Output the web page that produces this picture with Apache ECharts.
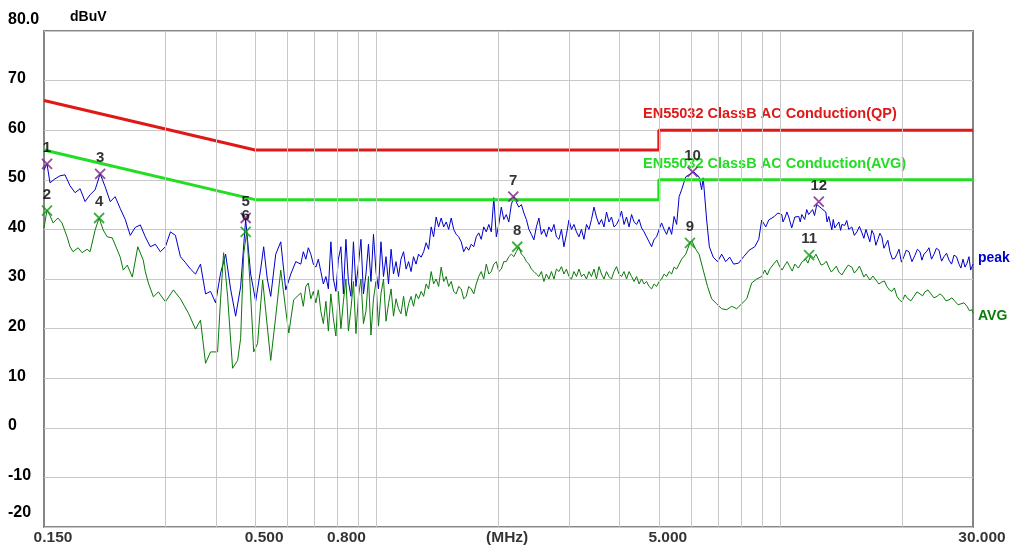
<!DOCTYPE html>
<html><head><meta charset="utf-8">
<script src="https://cdn.jsdelivr.net/npm/echarts@6/dist/echarts.min.js"></script>
<style>html,body{margin:0;padding:0;background:#fff}#c{width:1014px;height:545px}</style>
</head><body><div id="c"></div><script>
// ---- data ----
const X_GRID = [0.3,0.4,0.5,0.6,0.7,0.8,0.9,1,2,3,4,5,6,7,8,9,10,20];
const X_TICK_VALUES = [0.15,0.5,0.8,2,5,30];
const X_TICK_TEXT = ['0.150','0.500','0.800','(MHz)','5.000','30.000'];
const Y_TICK_TEXT = {'-20':'-20','-10':'-10','0':'0','10':'10','20':'20','30':'30','40':'40','50':'50','60':'60','70':'70','80':'80.0'};

const QP_LIMIT_NAME = 'EN55032 ClassB AC Conduction(QP)';
const QP_LIMIT = [[0.15,66],[0.5,56],[5,56],[5,60],[30,60]];
const AVG_LIMIT_NAME = 'EN55032 ClassB AC Conduction(AVG)';
const AVG_LIMIT = [[0.15,56],[0.5,46],[5,46],[5,50],[30,50]];

// peak trace [MHz, dBuV]
const PEAK_TRACE = [
[0.150,52.0],[0.1526,53.2],[0.1552,49.4],[0.1597,50.2],[0.1643,50.8],[0.1691,51.0],[0.1740,48.8],[0.1791,47.4],[0.1843,48.2],[0.1896,45.6],[0.1951,47.0],[0.2008,48.0],[0.2066,51.2],[0.2126,48.6],[0.2188,45.6],[0.2251,46.6],[0.2317,44.2],[0.2384,42.0],[0.2453,38.8],[0.2524,40.4],[0.2598,40.9],[0.2673,38.5],[0.2751,36.5],[0.2831,37.0],[0.2913,35.5],[0.2998,36.5],[0.3085,39.5],[0.3174,38.8],[0.3266,34.5],[0.3361,33.3],[0.3459,32.0],[0.3559,31.0],[0.3662,33.0],[0.3769,27.0],[0.3878,27.5],[0.3991,25.2],[0.4107,31.2],[0.4226,35.0],[0.4348,28.0],[0.4474,22.5],[0.4604,28.4],[0.4738,42.0],[0.4875,31.0],[0.5017,25.5],[0.5162,32.0],[0.525,36.5],[0.536,30.0],[0.5466,26.5],[0.5625,35.0],[0.5788,37.5],[0.5956,27.8],[0.6129,31.0],[0.6306,33.5],
[0.6489,33.0],[0.6582,35.5],[0.6678,34.0],[0.6773,36.3],[0.6871,35.0],[0.6970,33.0],[0.7070,32.4],[0.7171,34.0],[0.7275,31.5],[0.7379,29.0],[0.7487,30.5],[0.7594,28.0],[0.7703,37.5],[0.7814,30.0],[0.7927,27.5],[0.8040,34.0],[0.8157,36.5],[0.8274,27.0],[0.8393,38.0],[0.8514,29.5],[0.8637,26.5],[0.8761,37.5],[0.8887,28.5],[0.9015,33.0],[0.9145,38.0],[0.9276,27.0],[0.9409,31.0],[0.9545,37.0],[0.9682,29.5],[0.9821,39.0],[0.9963,31.5],[1.0106,28.0],[1.025,37.5],[1.040,30.5],[1.055,34.5],[1.070,29.0],[1.086,36.0],[1.101,31.0],[1.117,33.5],[1.133,30.5],[1.149,34.0],[1.166,35.5],[1.183,32.0],[1.200,33.5],[1.217,31.5],[1.234,34.5],[1.252,33.0],[1.270,35.0],[1.289,34.4],
[1.3075,35.5],[1.326,37.3],[1.345,36.0],[1.365,40.5],[1.384,38.5],[1.404,42.5],[1.424,40.5],[1.445,42.3],[1.466,40.5],[1.487,41.5],[1.508,40.0],[1.530,42.3],[1.552,40.0],[1.574,39.0],[1.597,38.5],[1.620,37.5],[1.643,35.5],[1.667,36.5],[1.691,35.8],[1.715,37.0],[1.740,36.5],[1.765,38.5],[1.790,39.3],[1.816,38.0],[1.842,40.5],[1.869,39.5],[1.896,41.0],[1.923,39.5],[1.951,46.4],[1.979,38.5],[2.007,41.0],[2.036,44.5],[2.065,42.0],[2.095,43.0],[2.125,41.5],[2.156,45.0],[2.187,46.6],[2.218,45.5],[2.250,44.5],[2.283,45.0],[2.316,43.3],[2.349,42.0],[2.383,40.0],[2.417,39.0],[2.452,37.9],[2.487,40.5],[2.523,42.3],[2.559,39.0],[2.596,40.0],[2.633,38.5],[2.671,40.5],[2.710,39.5],[2.749,41.0],[2.788,38.5],[2.828,38.0],[2.869,40.0],[2.910,36.5],[2.952,39.0],[2.995,41.9],[3.038,40.0],[3.081,41.0],[3.126,39.5],[3.171,38.5],[3.216,40.0],[3.262,38.0],[3.309,41.0],[3.357,40.0],[3.405,42.0],[3.454,44.5],[3.504,42.5],[3.554,41.0],[3.606,42.0],[3.657,40.5],[3.710,43.5],[3.763,41.5],[3.817,42.5],[3.872,40.5],[3.928,41.0],[3.984,42.0],[4.042,43.7],[4.100,41.0],[4.159,42.5],[4.219,40.5],[4.280,43.0],[4.341,41.5],[4.404,41.0],[4.467,42.0],[4.531,40.3],[4.596,39.5],[4.662,38.5],[4.729,37.5],[4.798,36.5],[4.866,38.0],[4.937,38.5],[5.008,40.0],[5.080,41.3],[5.153,40.0],[5.227,39.0],[5.302,40.5],[5.378,39.0],[5.455,42.6],[5.534,41.0],[5.613,46.6],[5.694,48.0],
[5.83,50.6],[5.99,51.2],[6.10,51.6],[6.29,50.6],[6.383,48.0],[6.44,50.4],[6.568,41.9],[6.67,36.5],[6.82,34.4],[6.99,33.5],[7.155,35.0],[7.32,33.5],[7.49,34.4],[7.66,33.0],[7.88,33.2],[8.11,34.5],[8.37,35.8],[8.64,36.5],[8.84,38.0],[8.99,41.9],[9.20,40.5],[9.36,41.9],[9.66,42.6],[9.85,43.3],[10.08,43.0],[10.15,41.5],[10.26,42.3],[10.38,43.5],[10.49,42.5],[10.67,40.3],[10.86,42.5],[11.11,42.6],[11.2,41.5],[11.30,43.0],[11.49,42.0],[11.62,44.0],[11.75,43.0],[12.02,44.0],[12.15,42.8],[12.31,45.0],[12.45,45.4],[12.66,44.2],[12.96,43.5],[13.05,41.5],[13.18,42.6],[13.41,39.9],[13.52,42.0],[13.64,40.3],[13.96,41.5],[14.1,39.8],[14.20,41.0],[14.44,40.8],[14.6,41.8],[14.77,40.0],[15.03,40.5],[15.25,38.8],[15.47,39.5],[15.7,40.6],[15.92,39.3],[16.1,38.2],[16.29,40.0],[16.66,37.5],[16.85,39.8],[17.04,39.0],[17.24,36.8],[17.44,38.0],[17.64,39.2],[17.84,38.5],[18.05,36.2],[18.25,37.0],[18.46,37.8],[18.68,35.5],[18.95,34.0],[19.22,34.2],[19.44,35.0],[19.67,36.0],[19.95,33.4],[20.23,34.5],[20.5,35.8],[20.82,35.5],[21.18,33.5],[21.55,34.8],[21.85,36.0],[22.17,35.5],[22.42,33.8],[22.68,35.0],[23.0,35.5],[23.34,36.3],[23.68,34.0],[24.02,35.0],[24.35,36.2],[24.71,35.8],[25.08,33.6],[25.43,34.5],[25.8,35.2],[26.16,33.8],[26.55,33.0],[26.92,34.8],[27.3,34.5],[27.70,33.0],[28.0,32.2],[28.34,34.0],[28.66,32.4],[29.0,33.2],[29.32,34.5],[29.6,31.8],[29.83,32.5],[30.0,33.0]
];

// average trace [MHz, dBuV]
const AVG_TRACE = [
[0.150,40.3],[0.1526,43.9],[0.1552,42.8],[0.1580,41.3],[0.1624,42.3],[0.1662,41.3],[0.1711,38.5],[0.1740,36.5],[0.1770,35.5],[0.1822,36.3],[0.1864,35.3],[0.1918,36.0],[0.1951,35.5],[0.2008,39.9],[0.2054,42.3],[0.2102,39.9],[0.2151,38.5],[0.2213,38.3],[0.2251,36.9],[0.2317,34.4],[0.2357,31.8],[0.2412,32.8],[0.2482,30.4],[0.2561,36.5],[0.2642,33.8],[0.2673,31.5],[0.2720,29.2],[0.2799,26.4],[0.2880,27.4],[0.2998,25.4],[0.3138,27.8],[0.3266,26.0],[0.3419,23.1],[0.3559,19.9],[0.3662,21.7],[0.3769,13.0],[0.3878,15.3],[0.4037,15.3],[0.4107,26.0],[0.4178,35.3],[0.4275,26.4],[0.4398,12.0],[0.4526,13.6],[0.4604,18.0],[0.4684,35.0],[0.4765,39.5],[0.485,30.0],[0.496,15.3],[0.507,17.0],[0.522,29.8],[0.531,23.7],[0.5466,13.6],[0.5625,22.5],[0.5788,31.8],[0.5956,23.7],[0.606,19.1],[0.623,25.8],
[0.6489,27.2],[0.6582,24.5],[0.6678,28.5],[0.6773,29.2],[0.6871,26.0],[0.6970,27.5],[0.7070,25.2],[0.7171,27.8],[0.7275,23.5],[0.7379,21.0],[0.7487,25.5],[0.7594,19.5],[0.7703,27.0],[0.7814,22.0],[0.7927,18.5],[0.8040,27.5],[0.8157,20.0],[0.8274,25.5],[0.8393,30.0],[0.8514,19.5],[0.8637,24.0],[0.8761,29.5],[0.8887,19.0],[0.9015,26.5],[0.9145,30.0],[0.9276,21.0],[0.9409,23.5],[0.9545,30.5],[0.9682,18.7],[0.9821,26.0],[0.9963,29.5],[1.0106,20.5],[1.025,27.0],[1.040,30.0],[1.055,21.5],[1.070,25.0],[1.086,28.0],[1.101,22.5],[1.117,26.0],[1.133,24.0],[1.149,23.0],[1.166,26.5],[1.183,22.5],[1.200,25.0],[1.217,26.5],[1.234,24.5],[1.252,27.0],[1.270,26.0],[1.289,27.5],
[1.3075,26.5],[1.326,29.0],[1.345,28.0],[1.365,31.5],[1.384,29.0],[1.404,30.0],[1.424,28.5],[1.445,32.4],[1.466,29.5],[1.487,30.5],[1.508,28.5],[1.530,29.5],[1.552,27.5],[1.574,27.0],[1.597,28.5],[1.620,28.0],[1.643,26.0],[1.667,26.5],[1.691,28.5],[1.715,28.0],[1.740,27.0],[1.765,29.0],[1.790,30.5],[1.816,31.5],[1.842,30.0],[1.869,33.0],[1.896,31.0],[1.923,31.5],[1.951,33.0],[1.979,33.5],[2.007,31.5],[2.036,32.0],[2.065,33.5],[2.095,33.5],[2.125,34.5],[2.156,35.0],[2.187,34.5],[2.218,35.5],[2.250,36.5],[2.283,35.0],[2.316,34.5],[2.349,33.5],[2.383,33.0],[2.417,32.0],[2.452,31.5],[2.487,31.0],[2.523,30.5],[2.559,31.5],[2.596,29.5],[2.633,31.0],[2.671,30.0],[2.710,31.5],[2.749,30.0],[2.788,32.0],[2.828,31.5],[2.869,32.5],[2.910,31.0],[2.952,32.0],[2.995,30.5],[3.038,30.0],[3.081,31.5],[3.126,30.5],[3.171,32.0],[3.216,30.5],[3.262,31.0],[3.309,30.0],[3.357,31.5],[3.405,30.5],[3.454,32.0],[3.504,30.0],[3.554,32.5],[3.606,31.0],[3.657,30.0],[3.710,31.5],[3.763,30.5],[3.817,30.0],[3.872,31.5],[3.928,32.5],[3.984,31.0],[4.042,30.5],[4.100,31.5],[4.159,30.0],[4.219,31.5],[4.280,30.5],[4.341,29.5],[4.404,30.5],[4.467,29.0],[4.531,30.0],[4.596,29.0],[4.662,29.5],[4.729,28.5],[4.798,28.0],[4.866,29.0],[4.937,28.5],[5.008,29.5],[5.080,30.0],[5.153,31.0],[5.227,30.5],[5.302,31.5],[5.378,31.0],[5.455,32.4],[5.534,32.0],[5.613,33.0],[5.694,34.0],
[5.83,35.0],[5.97,37.3],[6.03,37.8],[6.17,36.0],[6.29,35.0],[6.44,31.8],[6.6,28.5],[6.758,26.0],[6.954,25.0],[7.155,24.0],[7.362,23.8],[7.575,24.5],[7.795,24.0],[8.020,25.0],[8.253,26.0],[8.491,29.2],[8.737,30.0],[8.990,30.5],[9.15,31.8],[9.28,30.8],[9.41,32.0],[9.66,33.2],[9.8,33.8],[9.96,32.5],[10.1,31.8],[10.26,32.8],[10.4,33.5],[10.55,32.5],[10.7,31.6],[10.86,33.0],[11.08,32.2],[11.30,33.4],[11.55,34.0],[11.7,33.2],[11.89,34.8],[12.09,34.2],[12.25,35.0],[12.45,33.8],[12.62,32.8],[12.80,33.0],[13.0,33.6],[13.18,32.4],[13.37,31.4],[13.57,32.0],[13.76,32.6],[13.96,31.4],[14.2,30.8],[14.44,31.8],[14.72,32.8],[15.03,32.4],[15.25,31.2],[15.47,31.8],[15.7,32.6],[15.92,31.4],[16.1,30.4],[16.29,31.0],[16.66,29.8],[16.95,30.6],[17.24,29.8],[17.54,29.0],[17.84,29.4],[18.1,29.6],[18.36,28.5],[18.62,27.8],[18.89,27.5],[19.16,28.2],[19.44,26.5],[19.72,25.8],[20.00,25.4],[20.35,26.8],[20.70,26.0],[21.06,25.6],[21.42,26.5],[21.8,27.4],[22.17,27.0],[22.5,26.6],[22.81,27.4],[23.2,27.8],[23.60,27.0],[24.0,26.2],[24.43,26.5],[24.85,27.0],[25.28,26.5],[25.7,25.6],[26.16,25.8],[26.6,26.2],[27.07,25.5],[27.55,24.8],[28.01,25.0],[28.5,25.2],[28.99,24.5],[29.4,23.6],[29.83,23.8],[30.0,23.1]
];

const PEAK_MARKS = [[0.1526,53.2],[0.2066,51.2],[0.4738,42.3],[2.18,46.6],[6.06,51.6],[12.45,45.6]];
const PEAK_MARK_NO = ['1','3','5','7','10','12'];
const AVG_MARKS = [[0.1526,43.8],[0.2054,42.3],[0.4738,39.5],[2.23,36.5],[5.97,37.3],[11.78,34.8]];
const AVG_MARK_NO = ['2','4','6','8','9','11'];

// ---- build ----
const FONT = 'Liberation Sans';
const X_SYM = 'path://M0,0L10,10M10,0L0,10';
function markers(data, no, color){
  return {
    type:'scatter', z:10, symbol:X_SYM, symbolSize:10,
    itemStyle:{color:'none', borderColor:color, borderWidth:1.8},
    label:{show:true, position:'top', distance:1, color:'#000', fontFamily:FONT, fontWeight:'bold', fontSize:15,
      formatter:p=>no[p.dataIndex]},
    data: data
  };
}
const yFont = {fontFamily:FONT, fontWeight:'bold', fontSize:16, color:'#000'};
const chart = echarts.init(document.getElementById('c'), null, {renderer:'canvas'});
chart.setOption({
  animation:false,
  backgroundColor:'#fff',
  grid:{left:44, right:41, top:31, bottom:18, show:true, borderColor:'#858585', borderWidth:2, backgroundColor:'#fff'},
  xAxis:{type:'log', logBase:10, min:0.15, max:30,
    axisLine:{show:false}, axisTick:{show:false}, axisLabel:{show:false}, splitLine:{show:false}},
  yAxis:{type:'value', min:-20, max:80, interval:10,
    name:'dBuV', nameLocation:'end', nameGap:14,
    nameTextStyle:{align:'left', verticalAlign:'middle', padding:[0,0,0,26], fontFamily:FONT, fontWeight:'bold', fontSize:14, color:'#000'},
    axisLine:{show:false}, axisTick:{show:false},
    splitLine:{lineStyle:{color:'#c8c8c8', width:1}},
    axisLabel:{align:'left', margin:36,
      formatter:v=>{const t=Y_TICK_TEXT[String(v)]; return v===80?'{t|'+t+'}':(v===-20?'{b|'+t+'}':'{m|'+t+'}');},
      rich:{t:Object.assign({padding:[0,0,22,0]},yFont), m:Object.assign({padding:[0,0,4,0]},yFont), b:Object.assign({padding:[0,0,28,0]},yFont)}}
  },
  graphic:[
    {type:'text', left:643, top:106, z:5, style:{text:QP_LIMIT_NAME, fill:'#e01818', font:'bold 14.5px "Liberation Sans"'}},
    {type:'text', left:643, top:156, z:5, style:{text:AVG_LIMIT_NAME, fill:'#22dd22', font:'bold 14.5px "Liberation Sans"'}}
  ],
  series:[
    {type:'scatter', z:1, symbolSize:1, itemStyle:{color:'rgba(0,0,0,0)'}, silent:true,
      label:{show:true, position:'bottom', distance:2, offset:[9,0], fontFamily:FONT, fontWeight:'bold', fontSize:15.5, color:'#000',
        formatter:p=>X_TICK_TEXT[p.dataIndex]},
      data: X_TICK_VALUES.map(v=>[v,-20]),
      markLine:{silent:true, symbol:['none','none'], label:{show:false}, animation:false,
        lineStyle:{color:'#c8c8c8', width:1, type:'solid'},
        data: X_GRID.map(v=>({xAxis:v}))}
    },
    {name:'peak', type:'line', z:3, symbol:'none', lineStyle:{color:'#0000cc', width:1}, itemStyle:{color:'#0000cc'},
      endLabel:{show:true, formatter:'peak', color:'#0000cc', fontFamily:FONT, fontWeight:'bold', fontSize:14, offset:[0,-6], distance:5},
      data: PEAK_TRACE},
    {name:'AVG', type:'line', z:3, symbol:'none', lineStyle:{color:'#0a7a0a', width:1}, itemStyle:{color:'#0a7a0a'},
      endLabel:{show:true, formatter:'AVG', color:'#0a7a0a', fontFamily:FONT, fontWeight:'bold', fontSize:14, offset:[0,3], distance:5},
      data: AVG_TRACE},
    {name:QP_LIMIT_NAME, type:'line', z:4, symbol:'none', lineStyle:{color:'#e01818', width:3}, data: QP_LIMIT},
    {name:AVG_LIMIT_NAME, type:'line', z:4, symbol:'none', lineStyle:{color:'#22dd22', width:3}, data: AVG_LIMIT},
    markers(PEAK_MARKS, PEAK_MARK_NO, '#7a1f86'),
    markers(AVG_MARKS, AVG_MARK_NO, '#119911')
  ]
});
</script></body></html>
